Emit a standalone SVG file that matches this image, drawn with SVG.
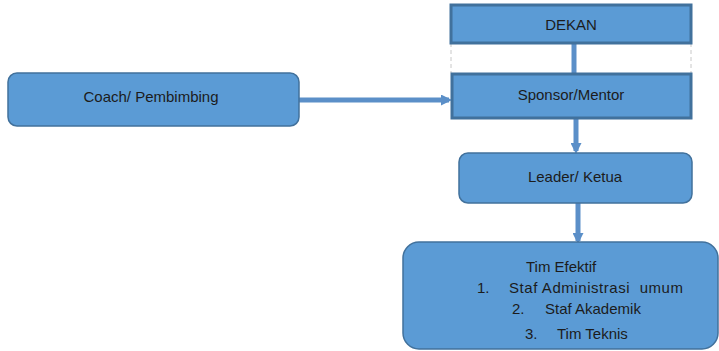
<svg xmlns="http://www.w3.org/2000/svg" width="719" height="351" viewBox="0 0 719 351">
<style>
.box{fill:#5b9bd5;stroke:#41719c;stroke-width:1.5}
.sq{fill:#5b9bd5;stroke:#41719c;stroke-width:3}
.t{font-family:"Liberation Sans",Arial,sans-serif;font-size:15px;fill:#1c1c1c;white-space:pre}
.c{fill:none;stroke:#5b8fc8;stroke-width:5}
.d{fill:none;stroke:#c8c8c8;stroke-width:1;stroke-dasharray:4 3}
</style>
<defs>
<marker id="ah" markerWidth="2.2" markerHeight="2.2" refX="1.6" refY="1.1" orient="auto" markerUnits="strokeWidth">
<path d="M0,0 L2.2,1.1 L0,2.2 Z" fill="#5b8fc8"/>
</marker>
</defs>
<g id="connectors">
<line class="d" x1="451" y1="43" x2="451" y2="73"/>
<line class="d" x1="691" y1="43" x2="691" y2="73"/>
<line class="c" x1="574" y1="43" x2="574" y2="73"/>
<line class="c" x1="299" y1="100" x2="449" y2="100" marker-end="url(#ah)"/>
<line class="c" x1="576" y1="119" x2="576" y2="151" marker-end="url(#ah)"/>
<line class="c" x1="578" y1="203" x2="578" y2="241" marker-end="url(#ah)"/>
</g>
<g id="dekan">
<rect class="sq" x="451" y="5" width="240" height="38"/>
<text class="t" x="571" y="30" text-anchor="middle">DEKAN</text>
</g>
<g id="sponsor">
<rect class="sq" x="452" y="74" width="239" height="44"/>
<text class="t" x="571" y="100" text-anchor="middle">Sponsor/Mentor</text>
</g>
<g id="coach">
<rect class="box" x="8" y="73" width="291" height="53" rx="9"/>
<text class="t" x="151" y="102" text-anchor="middle">Coach/ Pembimbing</text>
</g>
<g id="leader">
<rect class="box" x="459" y="153" width="233" height="50" rx="9"/>
<text class="t" x="575" y="182" text-anchor="middle">Leader/ Ketua</text>
</g>
<g id="tim">
<rect class="box" x="403" y="242" width="315" height="107" rx="16"/>
<text class="t" x="526" y="272">Tim Efektif</text>
<text class="t" x="477" y="293">1.</text>
<text class="t" x="509" y="293" textLength="174">Staf Administrasi  umum</text>
<text class="t" x="512" y="314">2.</text>
<text class="t" x="545" y="314">Staf Akademik</text>
<text class="t" x="525" y="339">3.</text>
<text class="t" x="557" y="339">Tim Teknis</text>
</g>
</svg>
